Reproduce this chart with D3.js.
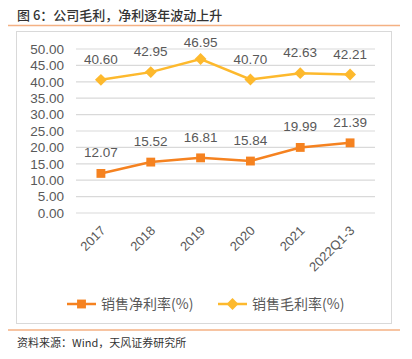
<!DOCTYPE html>
<html>
<head>
<meta charset="utf-8">
<script src="https://cdn.jsdelivr.net/npm/d3@7"></script>
<style>
  body { margin: 0; background: #fff; }
  svg { font-family: "Noto Sans CJK SC", "Noto Sans", sans-serif; }
</style>
</head>
<body>
<svg id="chart"></svg>
<script>
var width = 412,
    height = 359;

var categories = ['2017', '2018', '2019', '2020', '2021', '2022Q1-3'];
var netMargin = [12.07, 15.52, 16.81, 15.84, 19.99, 21.39];
var grossMargin = [40.60, 42.95, 46.95, 40.70, 42.63, 42.21];
var yTicks = [0, 5, 10, 15, 20, 25, 30, 35, 40, 45, 50];
var seriesNames = ['销售净利率(%)', '销售毛利率(%)'];

var orange = '#F58220',
    yellow = '#FDB92D',
    gridColor = '#D9D9D9',
    textColor = '#595959';

var svg = d3.select('svg#chart')
    .attr('width', width)
    .attr('height', height);

// title and rules
svg.append('text')
    .attr('x', 17)
    .attr('y', 20)
    .attr('font-size', 13)
    .attr('font-weight', 500)
    .attr('fill', '#333')
    .text('图 6：公司毛利，净利逐年波动上升');

svg.append('line')
    .attr('x1', 8).attr('x2', 400)
    .attr('y1', 25.5).attr('y2', 25.5)
    .attr('stroke', '#F4B183')
    .attr('stroke-width', 1.5);

svg.append('rect')
    .attr('x', 16.5).attr('y', 31.5)
    .attr('width', 375).attr('height', 292)
    .attr('fill', 'none')
    .attr('stroke', gridColor);

svg.append('line')
    .attr('x1', 8).attr('x2', 400)
    .attr('y1', 330).attr('y2', 330)
    .attr('stroke', '#F4B183')
    .attr('stroke-width', 1.5);

svg.append('text')
    .attr('x', 17)
    .attr('y', 347)
    .attr('font-size', 11)
    .attr('fill', '#333')
    .text('资料来源：Wind，天风证券研究所');

// scales
var x = d3.scaleBand()
    .domain(categories)
    .range([76, 375]);

var y = d3.scaleLinear()
    .domain([0, 50])
    .range([213, 49]);

var cx = function(d, i) { return x(categories[i]) + x.bandwidth() / 2; };

// grid
svg.append('g')
    .selectAll('line')
    .data(yTicks)
    .enter().append('line')
    .attr('x1', 76).attr('x2', 375)
    .attr('y1', function(d) { return y(d); })
    .attr('y2', function(d) { return y(d); })
    .attr('stroke', gridColor)
    .attr('stroke-width', 1.2);

// y axis
var yAxis = svg.append('g')
    .attr('transform', 'translate(64,0)')
    .call(d3.axisLeft(y).tickValues(yTicks).tickSize(0).tickPadding(0)
        .tickFormat(d3.format('.2f')));
yAxis.select('.domain').remove();
yAxis.selectAll('text')
    .attr('font-size', 13.5)
    .attr('fill', textColor)
    .attr('font-family', 'Liberation Sans, Arial, sans-serif');

// x axis
var xAxis = svg.append('g')
    .attr('transform', 'translate(0,213)')
    .call(d3.axisBottom(x).tickSize(0));
xAxis.select('.domain').remove();
xAxis.selectAll('text')
    .attr('font-size', 13)
    .attr('fill', textColor)
    .attr('font-family', 'Liberation Sans, Arial, sans-serif')
    .attr('text-anchor', 'end')
    .attr('transform', 'translate(0,13) rotate(-45)')
    .attr('dy', '0.35em');

var line = d3.line()
    .x(cx)
    .y(function(d) { return y(d); });

function drawSeries(values, color, shape, size) {
    svg.append('path')
        .datum(values)
        .attr('d', line)
        .attr('fill', 'none')
        .attr('stroke', color)
        .attr('stroke-width', 2.5);

    svg.append('g')
        .selectAll('path')
        .data(values)
        .enter().append('path')
        .attr('d', d3.symbol().type(shape).size(size))
        .attr('transform', function(d, i) {
            return 'translate(' + cx(d, i) + ',' + y(d) + ')';
        })
        .attr('fill', color);

    // labels sit above the point but stay inside the plot area
    svg.append('g')
        .selectAll('text')
        .data(values)
        .enter().append('text')
        .attr('x', cx)
        .attr('y', function(d) { return Math.max(y(d) - 16, 47); })
        .attr('text-anchor', 'middle')
        .attr('font-size', 13.5)
        .attr('fill', textColor)
        .attr('font-family', 'Liberation Sans, Arial, sans-serif')
        .text(function(d) { return d.toFixed(2); });
}

drawSeries(grossMargin, yellow, d3.symbolDiamond2, 90);
drawSeries(netMargin, orange, d3.symbolSquare2, 100);

// legend
var legendItems = [
    { name: seriesNames[0], color: orange, shape: d3.symbolSquare2, size: 100, x: 67 },
    { name: seriesNames[1], color: yellow, shape: d3.symbolDiamond2, size: 90, x: 218 }
];
var legend = svg.append('g')
    .selectAll('g')
    .data(legendItems)
    .enter().append('g')
    .attr('transform', function(d) { return 'translate(' + d.x + ',304)'; });

legend.append('line')
    .attr('x1', 0).attr('x2', 29)
    .attr('stroke', function(d) { return d.color; })
    .attr('stroke-width', 2.5);
legend.append('path')
    .attr('d', function(d) { return d3.symbol().type(d.shape).size(d.size)(); })
    .attr('transform', 'translate(14.5,0)')
    .attr('fill', function(d) { return d.color; });
legend.append('text')
    .attr('x', 34)
    .attr('dy', '0.35em')
    .attr('font-size', 14)
    .attr('fill', textColor)
    .text(function(d) { return d.name; });
</script>
</body>
</html>
